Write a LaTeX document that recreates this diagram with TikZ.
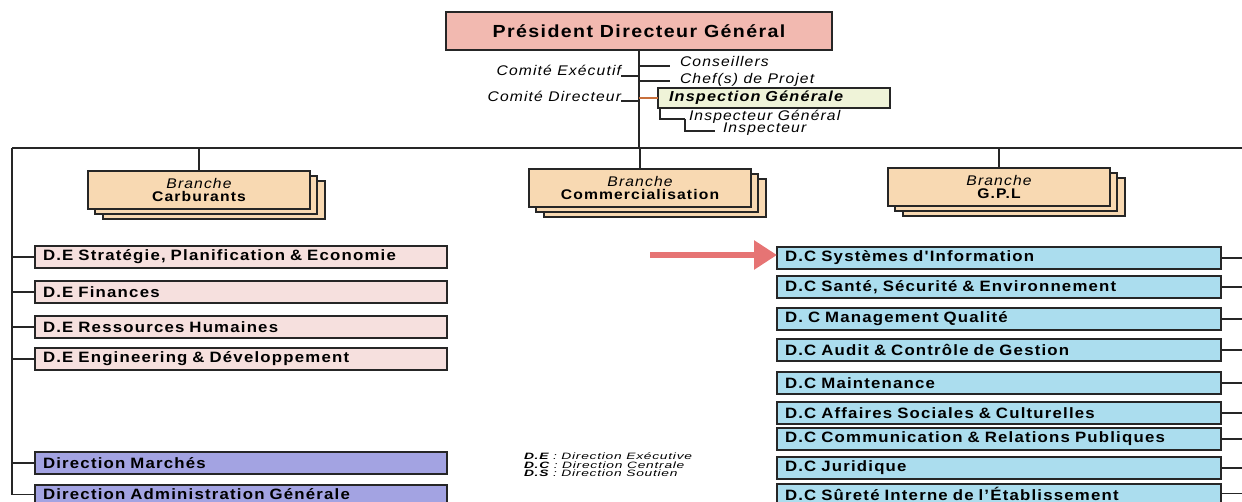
\documentclass[tikz,border=0pt]{standalone}
\usepackage{fontspec}
\usetikzlibrary{arrows.meta}
\newfontfamily\orgfont[FakeStretch=1.12,LetterSpace=8]{Liberation Sans}
\newfontfamily\legfont[FakeStretch=1.5,LetterSpace=8]{Liberation Sans}
\definecolor{pdgfill}{HTML}{F2B9B0}
\definecolor{inspfill}{HTML}{EFF3D8}
\definecolor{brfill}{HTML}{F8D9B2}
\definecolor{defill}{HTML}{F6E0DE}
\definecolor{dsfill}{HTML}{A3A3E2}
\definecolor{dcfill}{HTML}{ABDDEE}
\definecolor{arrowred}{HTML}{E67474}
\definecolor{linkorange}{HTML}{C8703C}
\begin{document}
\begin{tikzpicture}[x=1pt,y=-1pt,
  every node/.style={inner sep=0pt,outer sep=0pt},
  frame/.style={draw=black!85,line width=1.3pt},
  wire/.style={draw=black!85,line width=1.2pt},
  pdgbox/.style={frame,fill=pdgfill,anchor=north west,minimum width=386pt,minimum height=38pt,
    font=\orgfont\bfseries\fontsize{17.5}{19}\selectfont},
  inspbox/.style={frame,fill=inspfill,anchor=north west,minimum width=232pt,minimum height=20pt,
    text width=220pt,align=left,font=\orgfont\bfseries\itshape\fontsize{14.5}{16}\selectfont},
  side/.style={font=\orgfont\itshape\fontsize{14}{15}\selectfont},
  brlayer/.style={frame,fill=brfill,anchor=north west,minimum width=222pt,minimum height=38pt},
  brbox/.style={brlayer,align=center,font=\orgfont\bfseries\fontsize{14}{13}\selectfont},
  debox/.style={frame,fill=defill,anchor=north west,minimum width=412pt,minimum height=22pt,
    text width=396pt,align=left,font=\orgfont\bfseries\fontsize{15}{16}\selectfont},
  dsbox/.style={debox,fill=dsfill},
  dcbox/.style={debox,fill=dcfill,minimum width=444pt,text width=428pt},
  lastrow/.style={minimum height=19pt},
  legend/.style={align=left,font=\legfont\itshape\fontsize{9.2}{8.5}\selectfont}]
\useasboundingbox (0,0) rectangle (1242,502);
\clip (0,0) rectangle (1242,502);

% top of the chart
\node[pdgbox] (pdg) at (446,12) {Président Directeur Général};
\coordinate (mainL) at (12,148);
\coordinate (mainR) at (1242,148);
\draw[wire] (pdg.south) -- (pdg.south |- mainL);
\draw[wire] (mainL) -- (mainR);

% staff attached to the trunk
\node[side,anchor=base east] (cexe) at (621,76) {Comité Exécutif};
\node[side,anchor=base east] (cdir) at (621,102) {Comité Directeur};
\node[side,anchor=base west] (cons) at (680,67) {Conseillers};
\node[side,anchor=base west] (chef) at (680,84) {Chef(s) de Projet};
\draw[wire] (cexe.base east) -- (cexe.base east -| pdg.south);
\draw[wire] ([yshift=1pt]cdir.base east) -- ([yshift=1pt]cdir.base east -| pdg.south);
\draw[wire] ([yshift=1pt]pdg.south |- cons.base) -- ([shift={(-10pt,1pt)}]cons.base west);
\draw[wire] ([yshift=3pt]pdg.south |- chef.base) -- ([shift={(-10pt,3pt)}]chef.base west);

\node[inspbox] (insp) at (658,88) {\hspace*{5pt}Inspection Générale};
\draw[draw=linkorange,line width=1.2pt] (insp.west -| pdg.south) -- (insp.west);
\node[side,anchor=base west] (igen) at (689,121) {Inspecteur Général};
\node[side,anchor=base west] (insr) at (723,133) {Inspecteur};
\draw[wire] ([xshift=2pt]insp.south west) |- ([xshift=-4pt,yshift=2pt]igen.base west) coordinate (ig0);
\draw[wire] (ig0) |- ([xshift=-8pt,yshift=2pt]insr.base west);

% branches, each drawn as a small stack of cards
\foreach \nm/\bx/\by in {car/88/171,com/529/169,gpl/888/168}{
  \node[brlayer] (\nm3) at (\bx+15,\by+10) {};
  \node[brlayer] (\nm2) at (\bx+7,\by+5) {};
}
\node[brbox] (car) at (88,171) {{\mdseries\itshape Branche}\\Carburants};
\node[brbox] (com) at (529,169) {{\mdseries\itshape Branche}\\Commercialisation};
\node[brbox] (gpl) at (888,168) {{\mdseries\itshape Branche}\\G.P.L};
\foreach \nm in {car,com,gpl} \draw[wire] (\nm.north) -- (\nm.north |- mainL);

% executive and support directions on the left
\node[debox] (de1) at (35,246) {D.E Stratégie, Planification \& Economie};
\node[debox] (de2) at (35,281) {D.E Finances};
\node[debox] (de3) at (35,316) {D.E Ressources Humaines};
\node[debox] (de4) at (35,348) {D.E Engineering \& Développement};
\node[dsbox] (ds1) at (35,452) {Direction Marchés};
\node[dsbox,lastrow] (ds2) at (35,485) {Direction Administration Générale};
\coordinate (leftEnd) at (12,495);
\draw[wire] (mainL) -- (leftEnd);
\foreach \nm in {de1,de2,de3,de4,ds1,ds2} \draw[wire] (\nm.west -| mainL) -- (\nm.west);

% central directions on the right
\node[dcbox] (dc1) at (777,247) {D.C Systèmes d'Information};
\node[dcbox] (dc2) at (777,276) {D.C Santé, Sécurité \& Environnement};
\node[dcbox] (dc3) at (777,308) {D. C Management Qualité};
\node[dcbox] (dc4) at (777,339) {D.C Audit \& Contrôle de Gestion};
\node[dcbox] (dc5) at (777,372) {D.C Maintenance};
\node[dcbox] (dc6) at (777,402) {D.C Affaires Sociales \& Culturelles};
\node[dcbox] (dc7) at (777,428) {D.C Communication \& Relations Publiques};
\node[dcbox] (dc8) at (777,457) {D.C Juridique};
\node[dcbox,lastrow] (dc9) at (777,484) {D.C Sûreté Interne de l’Établissement};
\foreach \nm in {dc1,dc2,dc3,dc4,dc5,dc6,dc7,dc8,dc9} \draw[wire] (\nm.east) -- (\nm.east -| mainR);

% pointer to the information systems direction
\coordinate (arrS) at (650,255);
\draw[draw=arrowred,line width=6pt,-{Triangle[length=23pt,width=28pt]}] (arrS) -- (arrS -| dc1.west);

% abbreviations
\node[legend,anchor=north west] (leg) at (524,453)
  {{\bfseries D.E} : Direction Exécutive\\{\bfseries D.C} : Direction Centrale\\{\bfseries D.S} : Direction Soutien};
\end{tikzpicture}
\end{document}
